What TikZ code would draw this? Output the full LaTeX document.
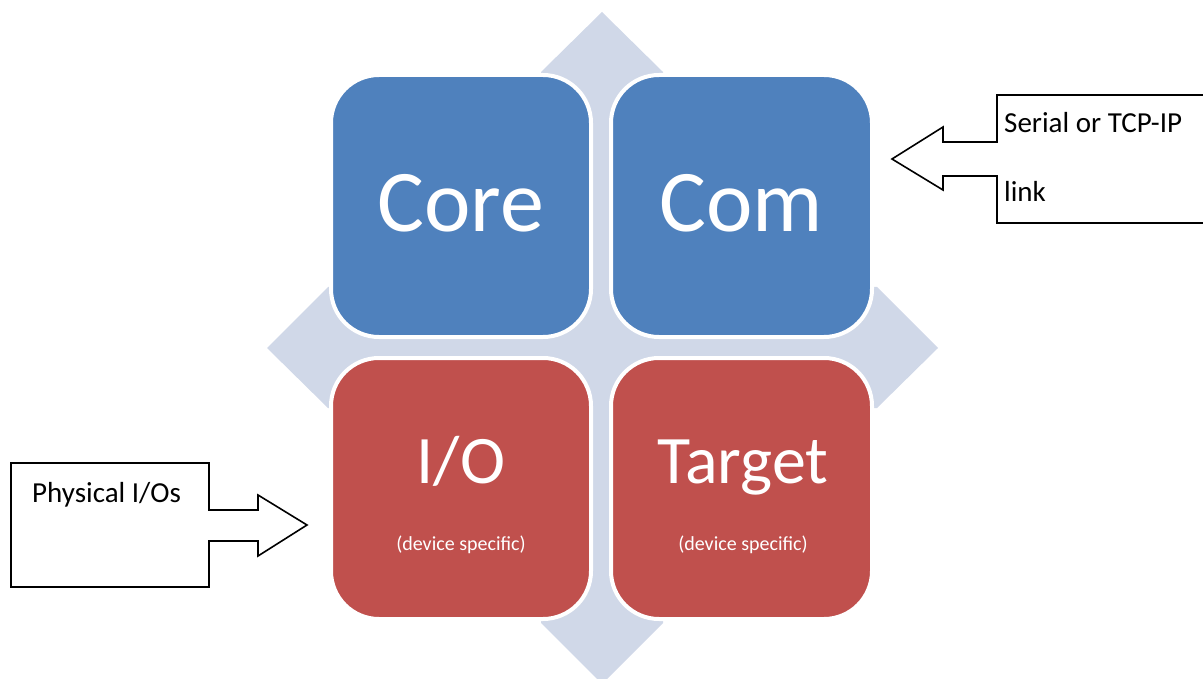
\documentclass[tikz,border=0pt]{standalone}
\usepackage{fontspec}
\setmainfont{Carlito}
\definecolor{coreblue}{HTML}{4F81BD}
\definecolor{iored}{HTML}{C0504D}
\definecolor{crossgray}{HTML}{D0D8E8}
\tikzset{
  tile/.style={draw=white, line width=4pt, rounded corners=48pt},
  bigtext/.style={text=white, font=\fontsize{88}{100}\selectfont, anchor=base},
  midtext/.style={text=white, font=\fontsize{68}{80}\selectfont, anchor=base},
  smalltext/.style={text=white, font=\fontsize{20}{24}\selectfont, anchor=base},
  calloutline/.style={draw=black, line width=1.6pt, fill=white, line join=miter},
  callouttext/.style={font=\fontsize{29}{35}\selectfont, anchor=base west, inner sep=0pt}
}

\begin{document}
\begin{tikzpicture}[x=1pt,y=-1pt]
        \useasboundingbox (0,0) rectangle (1203,679);
        \fill[crossgray] (602,12) -- (663,72) -- (663,287) -- (877,287) -- (938,348)
            -- (877,408) -- (663,408) -- (663,623) -- (602,684) -- (541,623)
            -- (541,408) -- (328,408) -- (267,348) -- (328,287) -- (541,287)
            -- (541,72) -- cycle;
        \draw[tile,fill=coreblue] (331,75) rectangle (591,337);
        \draw[tile,fill=coreblue] (611,75) rectangle (872,337);
        \draw[tile,fill=iored] (331,358) rectangle (591,619);
        \draw[tile,fill=iored] (611,358) rectangle (872,619);
        \node[bigtext] (core) at (461,232) {Core};
        \node[bigtext] (com) at (741,232) {Com};
        \node[midtext] (io) at (461,483) {I/O};
        \node[midtext] (target) at (743,483) {Target};
        \node[smalltext] (iodev) at (461,550) {(device specific)};
        \node[smalltext] (targetdev) at (743,550) {(device specific)};
        \draw[calloutline] (997,95) -- (1210,95) -- (1210,223) -- (997,223)
            -- (997,176) -- (943,176) -- (943,190) -- (892,159) -- (943,127)
            -- (943,142) -- (997,142) -- cycle;
        \node[callouttext, align=left, font=\fontsize{29}{69}\selectfont] (link) at (1004,202) {Serial or TCP-IP\\link};
        \draw[calloutline] (11,463) -- (209,463) -- (209,510) -- (258,510)
            -- (258,495) -- (307,525) -- (258,556) -- (258,541) -- (209,541)
            -- (209,587) -- (11,587) -- cycle;
        \node[callouttext] (phys) at (32,502) {Physical I/Os};
\end{tikzpicture}
\end{document}
